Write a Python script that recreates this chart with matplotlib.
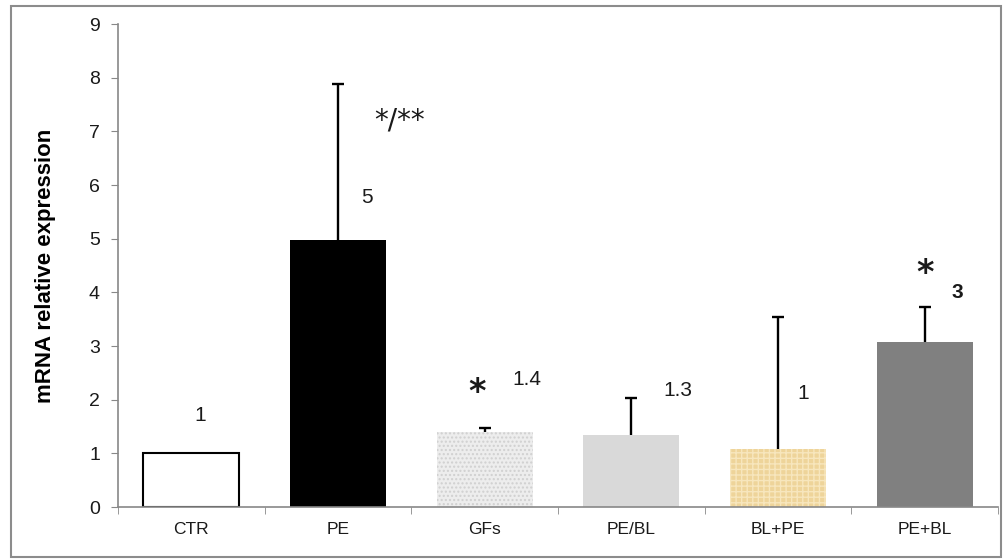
import matplotlib.pyplot as plt
from matplotlib.patches import Rectangle

## Values
groups = ['CTR', 'PE', 'GFs', 'PE/BL', 'BL+PE', 'PE+BL']
means = [1.0, 4.97, 1.40, 1.34, 1.08, 3.07]
err_up = [0.0, 2.91, 0.07, 0.69, 2.46, 0.65]
value_labels = ['1', '5', '1.4', '1.3', '1', '3']

plt.rcParams['font.family'] = ['Liberation Sans', 'DejaVu Sans']

fig = plt.figure(figsize=(10.07, 5.59), dpi=100)
ax = fig.add_axes([0.1172, 0.093, 0.874, 0.864])

## outer grey frame around the figure
fig.patches.append(Rectangle((0.011, 0.004), 0.983, 0.985, transform=fig.transFigure,
                             fill=False, edgecolor='#8c8c8c', lw=1.5))

x = list(range(len(groups)))
faces = ['white', 'black', '#ededed', '#d9d9d9', '#eed49a', '#808080']
edges = ['black', 'black', '#d0d0d0', '#d9d9d9', '#f7e6bd', '#808080']
hatches = [None, None, '....', None, '+++', None]
lws = [1.5, 0, 0, 0, 0, 0]

for i in x:
    ax.bar(i, means[i], width=0.655, color=faces[i], edgecolor=edges[i],
           hatch=hatches[i], linewidth=lws[i], zorder=2)

## only upper error bars (stem + top cap)
tops = [m + e for m, e in zip(means, err_up)]
ax.vlines(x[1:], means[1:], tops[1:], color='black', lw=1.7, zorder=3)
ax.plot(x[1:], tops[1:], ls='none', marker='_', ms=9, mew=1.7, color='black', zorder=3)

## value labels and significance marks
lab_pos = [(0.06, 1.71), (1.2, 5.76), (2.29, 2.37), (3.32, 2.18), (4.17, 2.12), (5.22, 4.0)]
for i, (lx, ly) in enumerate(lab_pos):
    ax.text(lx, ly, value_labels[i], ha='center', va='center', fontsize=15,
            fontweight='bold' if i == 5 else 'normal', color='#1a1a1a')
ax.text(1.42, 7.21, '*/**', ha='center', va='center', fontsize=20,
        family='DejaVu Sans', color='#1a1a1a')
ax.text(1.947, 2.14, '*', ha='center', va='center', fontsize=24, fontweight='bold',
        family='DejaVu Sans', color='#1a1a1a')
ax.text(5.0, 4.36, '*', ha='center', va='center', fontsize=24, fontweight='bold',
        family='DejaVu Sans', color='#1a1a1a')

ax.set_xlim(-0.5, 5.5)
ax.set_ylim(0, 9)
ax.set_yticks(range(10))
ax.set_xticks(x)
ax.set_xticklabels(groups, fontsize=12.5, color='#1a1a1a')
ax.set_xticks([i + 0.5 for i in range(-1, 6)], minor=True)
ax.tick_params(axis='x', which='major', length=0, pad=11)
ax.tick_params(axis='x', which='minor', length=5, color='#888888')
ax.tick_params(axis='y', length=5, color='#888888', labelsize=14, pad=8, labelcolor='#1a1a1a')
ax.set_ylabel('mRNA relative expression', fontsize=16, fontweight='bold', labelpad=24)

for s in ['top', 'right']:
    ax.spines[s].set_visible(False)
ax.spines['left'].set_color('#888888')
ax.spines['bottom'].set_color('#888888')
ax.spines['left'].set_linewidth(1.2)
ax.spines['bottom'].set_linewidth(1.2)

plt.savefig('out.png', dpi=100)
